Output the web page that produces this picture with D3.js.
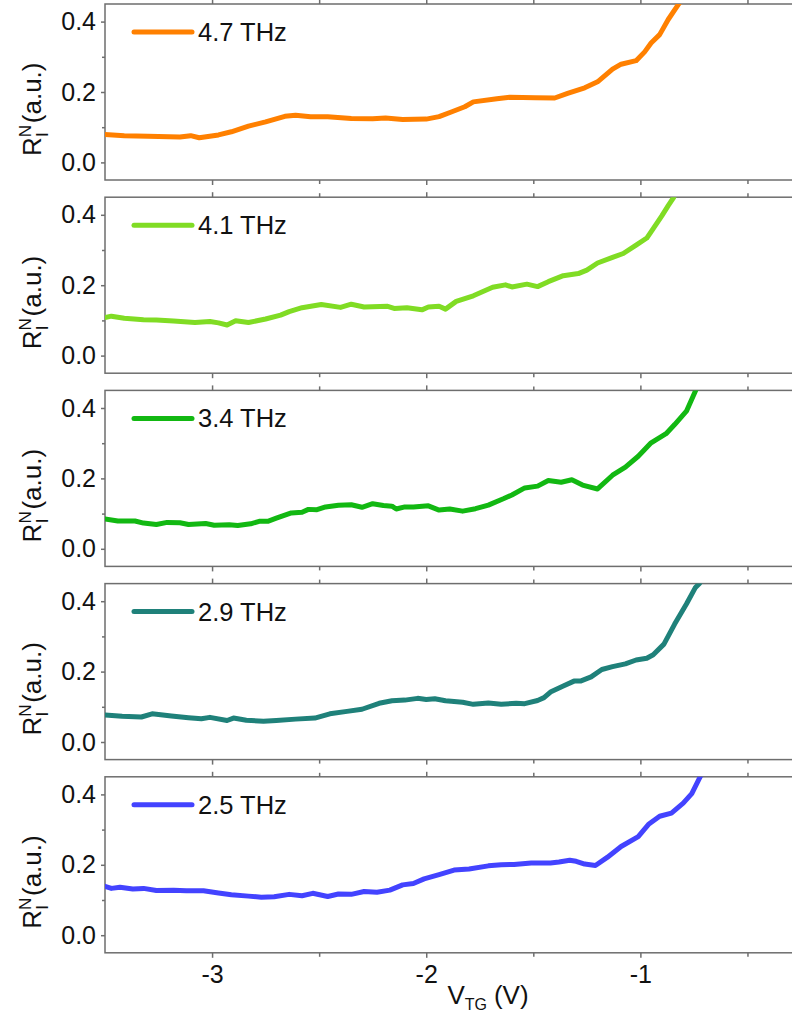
<!DOCTYPE html>
<html>
<head>
<meta charset="utf-8">
<script src="https://cdn.jsdelivr.net/npm/d3@7"></script>
<style>
  html, body { margin: 0; padding: 0; background: #fff; }
  svg { display: block; font-family: Arial, "Liberation Sans", sans-serif; }
</style>
</head>
<body>
<svg id="chart" width="792" height="1017"></svg>
<script>
// Nonlocal response vs. top-gate voltage at five THz frequencies
const frequencies = ["4.7 THz", "4.1 THz", "3.4 THz", "2.9 THz", "2.5 THz"];
const colors = ["#ff8000", "#80dc24", "#12b812", "#1f817a", "#4343ff"];

// [V_TG (V), R (a.u.)]
const trace47 = [[-3.50,0.079],[-3.41,0.076],[-3.30,0.074],[-3.15,0.072],[-3.10,0.076],[-3.06,0.070],[-2.97,0.078],[-2.91,0.087],[-2.83,0.103],[-2.75,0.115],[-2.66,0.131],[-2.61,0.134],[-2.54,0.130],[-2.46,0.130],[-2.35,0.125],[-2.25,0.124],[-2.19,0.126],[-2.11,0.122],[-2.00,0.123],[-1.94,0.130],[-1.88,0.144],[-1.82,0.158],[-1.78,0.172],[-1.67,0.181],[-1.61,0.185],[-1.49,0.184],[-1.40,0.183],[-1.34,0.196],[-1.26,0.212],[-1.20,0.229],[-1.13,0.265],[-1.09,0.279],[-1.02,0.289],[-0.98,0.314],[-0.95,0.339],[-0.91,0.363],[-0.87,0.406],[-0.82,0.451],[-0.79,0.480]];
const trace41 = [[-3.50,0.108],[-3.47,0.112],[-3.41,0.106],[-3.32,0.102],[-3.26,0.101],[-3.18,0.098],[-3.08,0.094],[-3.01,0.097],[-2.97,0.093],[-2.93,0.087],[-2.89,0.099],[-2.83,0.094],[-2.75,0.104],[-2.68,0.115],[-2.64,0.125],[-2.58,0.136],[-2.49,0.145],[-2.40,0.137],[-2.35,0.146],[-2.29,0.138],[-2.18,0.140],[-2.15,0.134],[-2.09,0.136],[-2.02,0.130],[-1.99,0.138],[-1.94,0.140],[-1.91,0.132],[-1.86,0.154],[-1.78,0.170],[-1.69,0.194],[-1.63,0.201],[-1.60,0.195],[-1.53,0.203],[-1.48,0.196],[-1.43,0.210],[-1.36,0.227],[-1.29,0.233],[-1.25,0.243],[-1.20,0.263],[-1.13,0.279],[-1.08,0.290],[-1.02,0.314],[-0.97,0.334],[-0.94,0.361],[-0.90,0.397],[-0.87,0.426],[-0.845,0.449],[-0.82,0.480]];
const trace34 = [[-3.50,0.085],[-3.44,0.079],[-3.36,0.079],[-3.32,0.073],[-3.26,0.069],[-3.21,0.075],[-3.15,0.074],[-3.11,0.069],[-3.03,0.072],[-2.99,0.067],[-2.92,0.068],[-2.88,0.066],[-2.82,0.071],[-2.78,0.078],[-2.74,0.078],[-2.70,0.087],[-2.63,0.102],[-2.58,0.104],[-2.55,0.112],[-2.51,0.111],[-2.47,0.119],[-2.41,0.124],[-2.35,0.125],[-2.30,0.118],[-2.25,0.128],[-2.20,0.123],[-2.16,0.121],[-2.14,0.113],[-2.10,0.119],[-2.06,0.119],[-1.99,0.122],[-1.94,0.110],[-1.89,0.113],[-1.83,0.107],[-1.77,0.114],[-1.71,0.124],[-1.64,0.142],[-1.60,0.153],[-1.54,0.173],[-1.48,0.178],[-1.43,0.194],[-1.37,0.189],[-1.32,0.196],[-1.27,0.181],[-1.20,0.170],[-1.13,0.209],[-1.07,0.232],[-1.01,0.263],[-0.95,0.301],[-0.88,0.327],[-0.84,0.353],[-0.785,0.391],[-0.744,0.447],[-0.72,0.480]];
const trace29 = [[-3.50,0.077],[-3.42,0.073],[-3.33,0.071],[-3.28,0.080],[-3.19,0.074],[-3.11,0.069],[-3.05,0.066],[-3.01,0.070],[-2.93,0.061],[-2.90,0.068],[-2.84,0.062],[-2.76,0.059],[-2.70,0.061],[-2.61,0.065],[-2.52,0.068],[-2.45,0.080],[-2.37,0.087],[-2.30,0.093],[-2.22,0.110],[-2.16,0.117],[-2.10,0.119],[-2.04,0.124],[-2.00,0.121],[-1.96,0.123],[-1.91,0.117],[-1.83,0.113],[-1.78,0.107],[-1.71,0.111],[-1.65,0.107],[-1.58,0.110],[-1.54,0.109],[-1.48,0.118],[-1.45,0.126],[-1.42,0.142],[-1.36,0.159],[-1.31,0.173],[-1.28,0.173],[-1.23,0.185],[-1.18,0.206],[-1.13,0.214],[-1.07,0.222],[-1.02,0.233],[-0.97,0.238],[-0.94,0.248],[-0.89,0.278],[-0.84,0.335],[-0.785,0.392],[-0.744,0.438],[-0.723,0.451],[-0.70,0.480]];
const trace25 = [[-3.50,0.139],[-3.47,0.133],[-3.43,0.136],[-3.37,0.131],[-3.32,0.133],[-3.26,0.127],[-3.18,0.128],[-3.12,0.126],[-3.04,0.126],[-2.97,0.120],[-2.91,0.115],[-2.83,0.111],[-2.77,0.108],[-2.71,0.109],[-2.64,0.116],[-2.58,0.112],[-2.53,0.119],[-2.46,0.110],[-2.41,0.117],[-2.35,0.116],[-2.29,0.124],[-2.23,0.122],[-2.17,0.128],[-2.11,0.143],[-2.06,0.147],[-2.01,0.160],[-1.94,0.172],[-1.87,0.185],[-1.80,0.188],[-1.71,0.197],[-1.65,0.200],[-1.59,0.201],[-1.51,0.205],[-1.42,0.205],[-1.38,0.208],[-1.33,0.213],[-1.30,0.210],[-1.26,0.202],[-1.21,0.198],[-1.155,0.221],[-1.09,0.252],[-1.01,0.280],[-0.96,0.316],[-0.91,0.338],[-0.855,0.347],[-0.80,0.375],[-0.76,0.402],[-0.72,0.451],[-0.70,0.480]];
const traces = [trace47, trace41, trace34, trace29, trace25];

const xTicks = [-3, -2, -1];
const xMinorTicks = [-2.5, -1.5, -0.5];
const yTicks = [0.0, 0.2, 0.4];
const yMinorTicks = [0.1, 0.3];

const svg = d3.select("#chart");
const left = 105, plotW = 696, plotH = 176, firstTop = 4, step = 193.2;
const frameColor = "#6e6e6e";
const fontFamily = "Arial, 'Liberation Sans', sans-serif";

const x = d3.scaleLinear().domain([-3.5, -0.25]).range([left, left + plotW]);
const y = d3.scaleLinear().domain([-0.05, 0.45]).range([plotH, 0]);

traces.forEach((data, i) => {
  const top = firstTop + i * step;
  const g = svg.append("g").attr("transform", `translate(0,${top})`);

  g.append("clipPath").attr("id", `clip${i}`)
    .append("rect").attr("x", left).attr("y", 0).attr("width", plotW).attr("height", plotH);

  // frame
  g.append("rect").attr("x", left).attr("y", 0).attr("width", plotW).attr("height", plotH)
    .attr("fill", "none").attr("stroke", frameColor).attr("stroke-width", 1.5);

  // bottom and top ticks (outward)
  const last = i === traces.length - 1;
  const xb = d3.axisBottom(x).tickValues(xTicks).tickSize(5).tickPadding(4)
    .tickFormat(last ? d => String(d) : "");
  const axB = g.append("g").attr("transform", `translate(0,${plotH})`).call(xb);
  const axBm = g.append("g").attr("transform", `translate(0,${plotH})`)
    .call(d3.axisBottom(x).tickValues(xMinorTicks).tickSize(4).tickFormat(""));
  const axT = g.append("g").call(d3.axisTop(x).tickValues(xTicks).tickSize(5).tickFormat(""));
  const axTm = g.append("g").call(d3.axisTop(x).tickValues(xMinorTicks).tickSize(4).tickFormat(""));

  // left ticks
  const axL = g.append("g").attr("transform", `translate(${left},0)`)
    .call(d3.axisLeft(y).tickValues(yTicks).tickSize(4).tickPadding(5).tickFormat(d3.format(".1f")));
  const axLm = g.append("g").attr("transform", `translate(${left},0)`)
    .call(d3.axisLeft(y).tickValues(yMinorTicks).tickSize(3).tickFormat(""));

  [axB, axBm, axT, axTm, axL, axLm].forEach(a => {
    a.select(".domain").remove();
    a.selectAll("line").attr("stroke", frameColor).attr("stroke-width", 1.5);
    a.selectAll("text").attr("fill", "#111").style("font-size", "25px")
      .style("font-family", fontFamily);
  });
  axB.selectAll("text").attr("dy", "0.85em");

  // data trace
  g.append("path").datum(data)
    .attr("clip-path", `url(#clip${i})`)
    .attr("fill", "none").attr("stroke", colors[i]).attr("stroke-width", 5)
    .attr("stroke-linejoin", "round").attr("stroke-linecap", "round")
    .attr("d", d3.line().x(d => x(d[0])).y(d => y(d[1])));

  // legend
  g.append("line").attr("x1", 134).attr("x2", 192).attr("y1", 28).attr("y2", 28)
    .attr("stroke", colors[i]).attr("stroke-width", 5).attr("stroke-linecap", "round");
  g.append("text").attr("x", 198).attr("y", 37).attr("fill", "#111")
    .style("font-size", "25.5px").text(frequencies[i]);

  // y-axis title, reads bottom to top starting near the lower edge
  const yt = g.append("text").attr("transform", `translate(41,${152}) rotate(-90)`)
    .attr("text-anchor", "start").attr("fill", "#111").style("font-size", "26px");
  yt.append("tspan").text("R");
  yt.append("tspan").attr("dy", -10).style("font-size", "17px").text("N");
  yt.append("tspan").attr("dx", -12).attr("dy", 17).style("font-size", "17px").text("I");
  yt.append("tspan").attr("dx", 9).attr("dy", -7).text("(a.u.)");
});

// x-axis title
const bottom = firstTop + 4 * step + plotH;
const xt = svg.append("text").attr("x", 488).attr("y", bottom + 51)
  .attr("text-anchor", "middle").attr("fill", "#111").style("font-size", "26px");
xt.append("tspan").text("V");
xt.append("tspan").attr("dy", 6).style("font-size", "16px").text("TG");
xt.append("tspan").attr("dx", 7).attr("dy", -6).text("(V)");
</script>
</body>
</html>
